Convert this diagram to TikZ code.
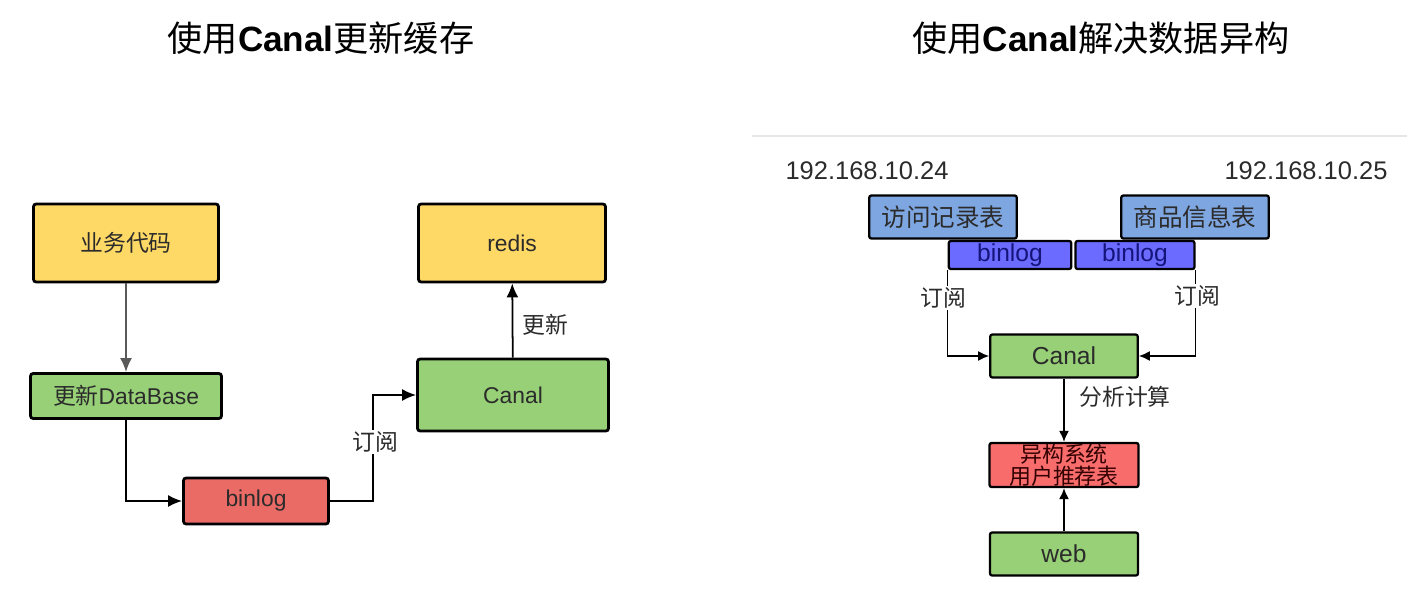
\documentclass[tikz,border=0pt]{standalone}
\usepackage{fontspec}
\setmainfont{Liberation Sans}
\newfontfamily\cjk{Noto Sans CJK SC}
\usetikzlibrary{arrows.meta,calc,positioning}
\definecolor{Yellow}{HTML}{FFD966}
\definecolor{Green}{HTML}{97D077}
\definecolor{Red}{HTML}{EA6B66}
\definecolor{LightRed}{HTML}{F86C6C}
\definecolor{Blue}{HTML}{7EA6E0}
\definecolor{Violet}{HTML}{6B6BFF}
\definecolor{Ink}{HTML}{2B2B2B}
\definecolor{Navy}{HTML}{14147A}
\definecolor{Rule}{HTML}{E6E6E6}
\newcommand{\zh}[1]{{\cjk #1}}

\begin{document}
\begin{tikzpicture}[x=0.02cm,y=-0.02cm,
  title/.style={font=\fontsize{20}{24}\selectfont},
  lbox/.style={draw=black,line width=1.6pt,rounded corners=1.5pt,text=Ink,font=\fontsize{13}{15}\selectfont},
  rbox/.style={draw=black,line width=1.3pt,rounded corners=1.2pt,text=Ink,inner sep=0pt,align=center,font=\fontsize{14}{15}\selectfont},
  larr/.style={-{Latex[length=2.8mm,width=2.4mm]},line width=1pt},
  rarr/.style={-{Latex[length=2.2mm,width=2mm]},line width=0.9pt},
  lbl/.style={fill=white,inner sep=1pt,text=Ink,font=\fontsize{13}{15}\selectfont}
]
\useasboundingbox (0,0) rectangle (1407,594);

% titles
\node[title] (t1) at (321,38) {\zh{使用}\textbf{Canal}\zh{更新缓存}};
\node[title] (t2) at (1101,38) {\zh{使用}\textbf{Canal}\zh{解决数据异构}};

% left: update cache
\node[lbox,fill=Yellow,minimum width=3.7cm,minimum height=1.56cm] (code) at (126,243) {\zh{业务代码}};
\node[lbox,fill=Green,minimum width=3.82cm,minimum height=0.9cm] (db) at (126,396) {\zh{更新}DataBase};
\node[lbox,fill=Red,minimum width=2.9cm,minimum height=0.92cm] (bl) at (256,501) {binlog};
\node[lbox,fill=Green,minimum width=3.82cm,minimum height=1.44cm] (canal) at (513,395) {Canal};
\node[lbox,fill=Yellow,minimum width=3.74cm,minimum height=1.56cm] (redis) at (512,243) {redis};

\draw[larr,draw=black!65] (code) -- (db);
\draw[larr] (db.south) |- (bl.west);
\draw[larr] (bl.east) -| ($(bl.east)!.5!(canal.west)$) |- (canal.west);
\node[lbl] (sub) at (375,442) {\zh{订阅}};
\draw[larr] (canal) -- (redis);
\node[lbl] (upd) at (545,325) {\zh{更新}};

% right: data heterogeneity
\draw[Rule,line width=1.2pt] (752,136) -- (1407,136);
\node[font=\fontsize{14.5}{16}\selectfont,text=Ink] (ip1) at (867,171) {192.168.10.24};
\node[font=\fontsize{14.5}{16}\selectfont,text=Ink] (ip2) at (1306,171) {192.168.10.25};

\node[rbox,fill=Blue,minimum width=2.95cm,minimum height=0.86cm] (visit) at (943,217) {\zh{访问记录表}};
\node[rbox,fill=Blue,minimum width=2.95cm,minimum height=0.86cm] (goods) at (1195,217) {\zh{商品信息表}};
\node[rbox,fill=Violet,text=Navy,minimum width=2.45cm,minimum height=0.56cm] (bl1) at (1010,255) {binlog};
\node[rbox,fill=Violet,text=Navy,minimum width=2.38cm,minimum height=0.56cm] (bl2) at (1135,255) {binlog};
\node[rbox,fill=Green,minimum width=2.95cm,minimum height=0.86cm] (cn) at (1064,356) {Canal};
\node[rbox,fill=LightRed,text=black!80!red,minimum width=2.98cm,minimum height=0.88cm,font=\fontsize{12.5}{12.5}\selectfont] (het) at (1064,465) {\zh{异构系统}\\\zh{用户推荐表}};
\node[rbox,fill=Green,minimum width=2.96cm,minimum height=0.86cm] (web) at (1064,554) {web};

\draw[rarr] (bl1.south west) |- (cn.west);
\draw[rarr] (bl2.south east) |- (cn.east);
\node[lbl] (sub1) at (943,298) {\zh{订阅}};
\node[lbl] (sub2) at (1197,296) {\zh{订阅}};
\draw[rarr] (cn) -- (het);
\node[lbl] (calc) at (1125,397) {\zh{分析计算}};
\draw[rarr] (web) -- (het);
\end{tikzpicture}
\end{document}
